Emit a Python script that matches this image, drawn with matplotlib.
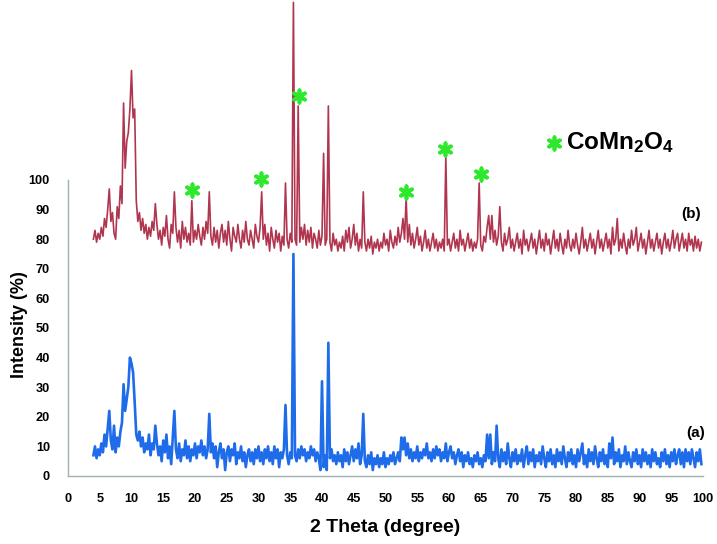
import numpy as np
import matplotlib
matplotlib.use("Agg")
import matplotlib.pyplot as plt

# 2 theta scan grid (degree), one reading every 0.25 deg
two_theta = np.arange(4.0, 100.0, 0.25)

# (b) upper pattern, intensity (%)
intensity_b = [
    80, 83, 79, 82, 80, 84, 81, 87, 84, 90, 97, 86, 89, 82, 80, 91, 87, 98, 92, 126,
    104, 113, 116, 124, 137, 121, 124, 93, 86, 89, 83, 87, 82, 85, 80, 84, 81, 86, 83, 92,
    85, 80, 83, 78, 84, 81, 88, 80, 77, 85, 82, 96, 84, 79, 83, 77, 86, 80, 84, 79,
    82, 78, 93, 79, 83, 80, 85, 81, 78, 84, 80, 86, 82, 96, 81, 78, 84, 79, 83, 77,
    82, 85, 79, 83, 78, 86, 80, 76, 84, 81, 79, 85, 80, 77, 83, 79, 86, 80, 78, 83,
    80, 77, 85, 81, 79, 84, 96, 80, 85, 78, 82, 76, 84, 80, 77, 83, 79, 82, 76, 81,
    78, 99, 80, 77, 82, 79, 160, 80, 78, 125, 79, 84, 80, 85, 78, 83, 79, 84, 77, 82,
    80, 77, 83, 78, 81, 109, 78, 80, 125, 79, 76, 82, 78, 80, 76, 79, 77, 81, 76, 83,
    79, 84, 77, 80, 85, 78, 82, 76, 80, 77, 96, 79, 76, 80, 77, 81, 75, 79, 77, 80,
    76, 79, 77, 82, 78, 80, 76, 83, 79, 77, 81, 78, 84, 79, 82, 87, 80, 94, 79, 85,
    78, 82, 77, 80, 84, 78, 81, 76, 79, 83, 77, 80, 76, 79, 82, 77, 80, 76, 79, 77,
    80, 76, 108, 78, 80, 76, 79, 82, 77, 80, 76, 83, 78, 80, 76, 79, 82, 77, 80, 76,
    79, 77, 80, 99, 78, 76, 81, 79, 84, 88, 80, 88, 79, 83, 78, 81, 91, 79, 76, 82,
    78, 80, 84, 77, 80, 76, 79, 82, 77, 80, 75, 83, 78, 80, 76, 79, 82, 77, 80, 75,
    79, 83, 77, 80, 76, 82, 78, 80, 75, 79, 83, 77, 80, 76, 82, 78, 75, 80, 77, 83,
    78, 76, 80, 77, 82, 78, 75, 79, 84, 77, 80, 76, 79, 82, 77, 80, 75, 79, 83, 77,
    80, 76, 79, 82, 77, 80, 75, 84, 78, 80, 87, 76, 80, 77, 82, 78, 75, 80, 77, 83,
    78, 80, 84, 76, 79, 82, 77, 80, 75, 79, 83, 77, 80, 76, 79, 82, 77, 80, 75, 79,
    82, 77, 80, 76, 79, 83, 77, 80, 82, 76, 79, 82, 77, 80, 76, 82, 78, 80, 76, 81,
    77, 80, 76, 79,
]

# (a) lower pattern, intensity (%)
intensity_a = [
    7, 10, 6, 9, 7, 11, 8, 14, 10, 16, 22, 12, 9, 17, 8, 13, 10, 15, 18, 31,
    22, 26, 30, 40, 38, 35, 25, 14, 12, 15, 10, 13, 8, 11, 9, 14, 7, 11, 9, 17,
    11, 7, 10, 5, 12, 8, 14, 6, 10, 4, 13, 22, 9, 6, 11, 5, 9, 7, 12, 6,
    10, 5, 9, 7, 11, 6, 10, 8, 12, 7, 10, 6, 9, 21, 8, 11, 6, 10, 3, 8,
    11, 6, 9, 2, 8, 10, 5, 9, 7, 11, 4, 8, 6, 10, 5, 8, 3, 7, 9, 5,
    8, 4, 9, 6, 10, 5, 8, 4, 9, 6, 10, 5, 8, 4, 10, 6, 9, 3, 8, 6,
    9, 24, 7, 4, 8, 6, 75, 7, 5, 9, 6, 10, 7, 9, 5, 8, 6, 10, 7, 9,
    5, 8, 6, 2, 32, 3, 7, 2, 45, 6, 9, 5, 7, 4, 8, 5, 7, 3, 9, 5,
    8, 4, 7, 10, 5, 9, 6, 11, 4, 7, 21, 5, 3, 7, 4, 8, 2, 6, 4, 7,
    3, 6, 4, 8, 3, 6, 4, 7, 5, 8, 4, 6, 8, 5, 13, 9, 13, 7, 11, 6,
    9, 5, 8, 6, 10, 5, 8, 6, 9, 7, 11, 6, 8, 5, 9, 6, 10, 7, 9, 5,
    8, 6, 11, 5, 8, 10, 6, 8, 4, 7, 9, 5, 8, 3, 7, 5, 8, 4, 6, 3,
    7, 5, 8, 4, 6, 3, 7, 5, 14, 6, 14, 4, 8, 5, 17, 6, 3, 9, 5, 8,
    4, 11, 6, 3, 8, 5, 9, 4, 7, 5, 9, 3, 7, 10, 4, 8, 5, 9, 3, 7,
    5, 8, 4, 10, 6, 3, 8, 5, 9, 4, 7, 3, 9, 5, 8, 4, 10, 6, 3, 8,
    5, 9, 4, 7, 3, 9, 5, 8, 11, 4, 7, 3, 9, 5, 8, 4, 10, 6, 3, 8,
    5, 9, 4, 7, 3, 11, 6, 13, 4, 8, 5, 9, 3, 7, 5, 10, 4, 8, 5, 3,
    8, 5, 9, 4, 7, 3, 9, 5, 8, 4, 7, 3, 9, 5, 8, 4, 6, 3, 8, 5,
    9, 4, 7, 3, 8, 5, 9, 4, 7, 9, 4, 8, 3, 9, 5, 8, 4, 9, 6, 3,
    8, 5, 9, 4,
]

# CoMn2O4 reflections marked with green stars
star_x = [19.5, 30.4, 36.4, 53.2, 59.4, 65.0]
star_y = [96.5, 100.5, 128.5, 96.0, 110.5, 102.0]

x_ticks = list(range(0, 101, 5))
y_ticks = list(range(0, 101, 10))

plt.rcParams["font.family"] = ["Liberation Sans", "DejaVu Sans"]
plt.rcParams["font.weight"] = "bold"
plt.rcParams["mathtext.fontset"] = "custom"
plt.rcParams["mathtext.rm"] = "Liberation Sans:bold"
plt.rcParams["mathtext.it"] = "Liberation Sans:bold"
plt.rcParams["mathtext.bf"] = "Liberation Sans:bold"

fig = plt.figure(figsize=(7.17, 5.44), dpi=100)
ax = fig.add_axes([68 / 717, 68 / 544, 635 / 717, 296 / 544])

red = "#B0354F"
blue = "#1E6CEA"
green = "#2EE82E"
spine_col = "#9FB2B2"

ax.plot(two_theta, intensity_b, color=red, lw=1.2, clip_on=False, zorder=3)
ax.plot(two_theta, intensity_a, color=blue, lw=1.9, clip_on=False, zorder=3)

ax.scatter(star_x, star_y, marker=(6, 2, 0), s=80, color=green,
           linewidths=2.7, clip_on=False, zorder=4)
ax.scatter([76.5], [112.5], marker=(6, 2, 0), s=80, color=green,
           linewidths=2.7, clip_on=False, zorder=4)
ax.text(78.4, 112.5, "CoMn$_2$O$_4$", fontsize=17.5, fontweight="bold",
        ha="left", va="center")

ax.text(99.6, 88.5, "(b)", fontsize=11, fontweight="bold", ha="right", va="center")
ax.text(100.3, 14.5, "(a)", fontsize=11, fontweight="bold", ha="right", va="center")

ax.set_xlim(0, 100)
ax.set_ylim(0, 100)
ax.set_xticks(x_ticks)
ax.set_yticks(y_ticks)
ax.tick_params(axis="both", length=0, labelsize=9.2)
ax.tick_params(axis="x", pad=12)
ax.tick_params(axis="y", pad=13)
for lab in ax.get_xticklabels() + ax.get_yticklabels():
    lab.set_fontweight("bold")

for side in ["top", "right"]:
    ax.spines[side].set_visible(False)
for side in ["left", "bottom"]:
    ax.spines[side].set_color(spine_col)
    ax.spines[side].set_linewidth(1.0)

fig.text(20 / 717, 1 - 325 / 544, "Intensity (%)", rotation=90, fontsize=13,
         fontweight="bold", ha="center", va="center")
fig.text(385 / 717, 1 - 527 / 544, "2 Theta (degree)", fontsize=14,
         fontweight="bold", ha="center", va="center")

fig.savefig("out.png", dpi=100)
